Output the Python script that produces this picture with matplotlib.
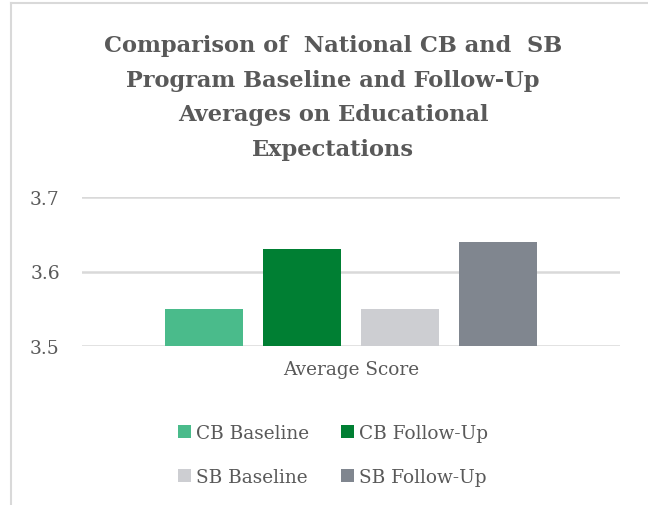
import numpy as np
import matplotlib.pyplot as plt
from matplotlib.lines import Line2D

series = ['CB Baseline', 'CB Follow-Up', 'SB Baseline', 'SB Follow-Up']
values = [3.55, 3.63, 3.55, 3.64]
colors = ['#4ABB8B', '#007F33', '#CDCED2', '#80868F']
category = 'Average Score'
yticks = [3.5, 3.6, 3.7]

txt = '#595959'
grid = '#D9D9D9'
plt.rcParams['font.family'] = 'DejaVu Serif'

fig = plt.figure(figsize=(6.48, 5.06), dpi=100)
ax = fig.add_axes([82/648, 1 - 347/506, 538/648, 149/506])

offsets = np.arange(len(series)) - (len(series) - 1) / 2
for off, v, c, s in zip(offsets, values, colors, series):
    ax.bar(off, v - 3.5, bottom=3.5, width=0.79, color=c, label=s, zorder=2)

ax.set_ylim(3.5, 3.7)
ax.set_xlim(-2.745, 2.745)
ax.set_yticks(yticks)
ax.set_yticklabels([f'{t:.1f}' for t in yticks])
ax.set_xticks([0])
ax.set_xticklabels([category])
ax.tick_params(axis='y', length=0, pad=16, labelsize=13.5, labelcolor=txt)
ax.tick_params(axis='x', length=0, pad=10, labelsize=13.3, labelcolor=txt)
for sp in ax.spines.values():
    sp.set_visible(False)
ax.set_axisbelow(True)
ax.yaxis.grid(True, color=grid, linewidth=1.8, zorder=0)
ax.set_facecolor('none')

fig.text(333/648, 1 - 98/506,
         'Comparison of  National CB and  SB\nProgram Baseline and Follow-Up\n'
         'Averages on Educational\nExpectations',
         ha='center', va='center', fontsize=16.2, fontweight='bold', color=txt,
         linespacing=1.74)

# legend fills row by row in the reference
handles, labels = ax.get_legend_handles_labels()
order = [0, 2, 1, 3]
leg = fig.legend([handles[i] for i in order], [labels[i] for i in order], ncol=2,
                 loc='center', bbox_to_anchor=(333/648, 1 - 456/506),
                 frameon=False, fontsize=13.3, labelcolor=txt, handlelength=0.7,
                 handleheight=0.7, handletextpad=0.3, columnspacing=1.7, labelspacing=1.45)

# chart border (top and left edges visible)
fig.add_artist(Line2D([11/648, 11/648], [0, 1 - 4/506], color=grid, linewidth=1.5))
fig.add_artist(Line2D([11/648, 1], [1 - 4/506, 1 - 4/506], color=grid, linewidth=1.5))

fig.savefig('out.png', dpi=100)
